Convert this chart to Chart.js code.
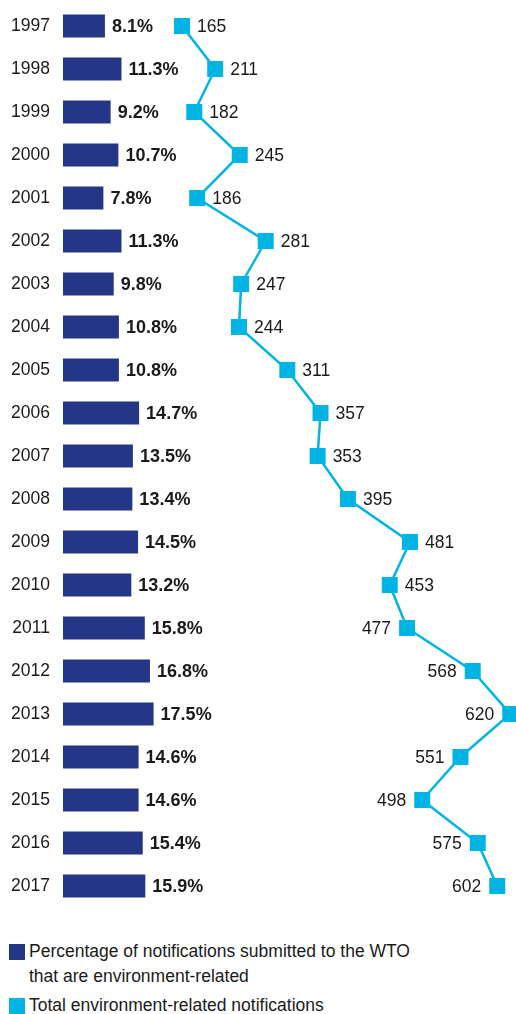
<!DOCTYPE html>
<html>
<head>
<meta charset="utf-8">
<script src="https://cdn.jsdelivr.net/npm/chart.js@4/dist/chart.umd.min.js"></script>
<style>
  html, body { margin: 0; padding: 0; background: #fff; }
  body { width: 516px; height: 1014px; position: relative; overflow: hidden;
         font-family: "Liberation Sans", Arial, Helvetica, sans-serif; color: #1a1a1a; }
  #c { display: block; position: absolute; left: 0; top: 0; }
  .legend { position: absolute; left: 9px; top: 939px; font-size: 17.5px; line-height: 25px; }
  .item { position: relative; padding-left: 20px; margin-bottom: 4px; }
  .sw { position: absolute; left: 0; top: 5px; width: 16px; height: 16px; }
</style>
</head>
<body>
<canvas id="c" width="516" height="912"></canvas>
<div class="legend">
  <div class="item"><span class="sw" style="background:#263686"></span>Percentage of notifications submitted to the WTO<br>that are environment-related</div>
  <div class="item"><span class="sw" style="background:#00b4e4"></span>Total environment-related notifications</div>
</div>
<script>
const years = ['1997','1998','1999','2000','2001','2002','2003','2004','2005','2006','2007','2008','2009','2010','2011','2012','2013','2014','2015','2016','2017'];
const percentShare = [8.1, 11.3, 9.2, 10.7, 7.8, 11.3, 9.8, 10.8, 10.8, 14.7, 13.5, 13.4, 14.5, 13.2, 15.8, 16.8, 17.5, 14.6, 14.6, 15.4, 15.9];
const totalNotifications = [165, 211, 182, 245, 186, 281, 247, 244, 311, 357, 353, 395, 481, 453, 477, 568, 620, 551, 498, 575, 602];

const NAVY = '#263686';
const CYAN = '#00b4e4';
const FONT = '"Liberation Sans", Arial, Helvetica, sans-serif';

const labelPlugin = {
  id: 'valueLabels',
  afterDatasetsDraw(chart) {
    const ctx = chart.ctx;
    ctx.save();
    ctx.fillStyle = '#1a1a1a';
    ctx.textBaseline = 'middle';
    const barMeta = chart.getDatasetMeta(0);
    ctx.font = 'bold 18px ' + FONT;
    ctx.textAlign = 'left';
    barMeta.data.forEach((el, i) => {
      ctx.fillText(percentShare[i].toFixed(1) + '%', el.x + 7, el.y + 1);
    });
    const lineMeta = chart.getDatasetMeta(1);
    ctx.font = '17.5px ' + FONT;
    lineMeta.data.forEach((el, i) => {
      const txt = String(totalNotifications[i]);
      if (i >= 14) {
        ctx.textAlign = 'right';
        ctx.fillText(txt, el.x - 16, el.y + 1);
      } else {
        ctx.textAlign = 'left';
        ctx.fillText(txt, el.x + 15, el.y + 1);
      }
    });
    ctx.restore();
  }
};

new Chart(document.getElementById('c'), {
  data: {
    labels: years,
    datasets: [
      {
        type: 'bar',
        data: percentShare,
        backgroundColor: NAVY,
        xAxisID: 'x',
        barPercentage: 0.535,
        categoryPercentage: 1,
        order: 2
      },
      {
        type: 'line',
        data: totalNotifications,
        borderColor: CYAN,
        backgroundColor: CYAN,
        borderWidth: 2.5,
        pointStyle: 'rect',
        pointRadius: 11.3,
        pointBorderWidth: 0,
        pointBackgroundColor: CYAN,
        xAxisID: 'x2',
        clip: false,
        order: 1
      }
    ]
  },
  options: {
    indexAxis: 'y',
    responsive: false,
    animation: false,
    devicePixelRatio: 1,
    events: [],
    layout: { autoPadding: false, padding: { left: 11, right: 0, top: 4.5, bottom: 4.5 } },
    plugins: { legend: { display: false }, tooltip: { enabled: false } },
    scales: {
      y: {
        type: 'category',
        offset: true,
        grid: { display: false, drawTicks: false },
        border: { display: false },
        ticks: { color: '#1a1a1a', font: { family: FONT, size: 17.5 }, padding: 13 },
        afterFit(scale) {
          scale.width = 52;
          scale.paddingTop = 0;
          scale.paddingBottom = 0;
        }
      },
      x: {
        type: 'linear', min: 0, max: 87.5, display: false
      },
      x2: {
        type: 'linear', min: 0, max: 628, display: false
      }
    }
  },
  plugins: [labelPlugin]
});
</script>
</body>
</html>
